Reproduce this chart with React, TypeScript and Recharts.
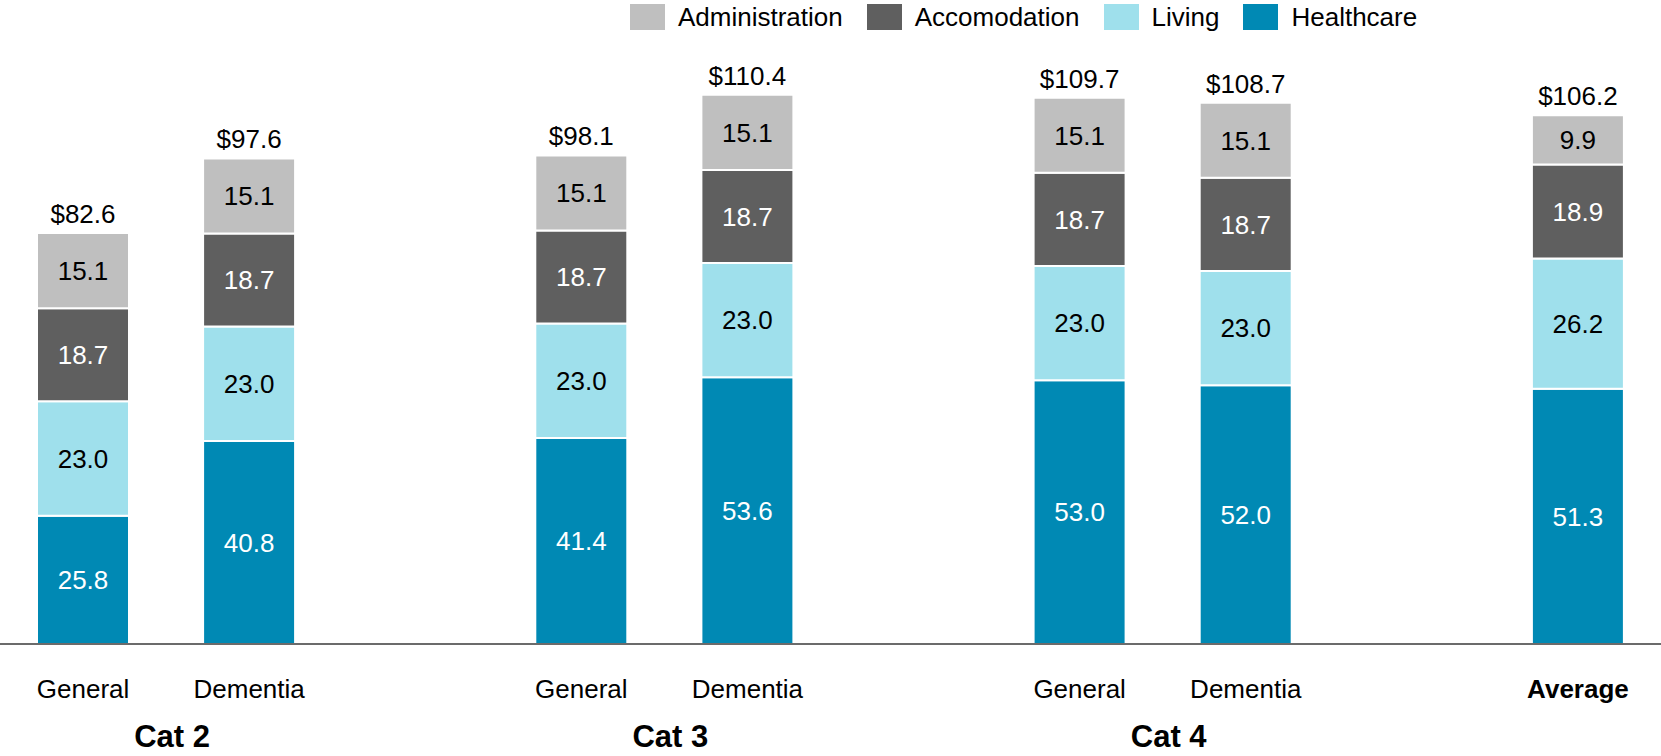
import { Bar, BarChart, LabelList, Legend, XAxis, YAxis } from "recharts";

const categories = ["General", "Dementia", "", "General", "Dementia", "", "General", "Dementia", "", "Average"];
const groups = ["Cat 2", "", "", "Cat 3", "", "", "Cat 4", "", "", ""];
const healthcare = [25.8, 40.8, null, 41.4, 53.6, null, 53.0, 52.0, null, 51.3];
const living = [23.0, 23.0, null, 23.0, 23.0, null, 23.0, 23.0, null, 26.2];
const accomodation = [18.7, 18.7, null, 18.7, 18.7, null, 18.7, 18.7, null, 18.9];
const administration = [15.1, 15.1, null, 15.1, 15.1, null, 15.1, 15.1, null, 9.9];
const totals = [82.6, 97.6, null, 98.1, 110.4, null, 109.7, 108.7, null, 106.2];

const legendItems = [
  { label: "Administration", color: "#bfbfbf" },
  { label: "Accomodation", color: "#5f5f5f" },
  { label: "Living", color: "#9fe0ec" },
  { label: "Healthcare", color: "#0089b4" },
];

const data = categories.map((name, i) => ({
  name,
  group: groups[i],
  healthcare: healthcare[i],
  living: living[i],
  accomodation: accomodation[i],
  administration: administration[i],
  total: totals[i],
}));

const WIDTH = 1661;
const HEIGHT = 756;
const SLOT = WIDTH / categories.length;
const FONT = "'Liberation Sans', Arial, sans-serif";

const fmt = (v: unknown) => (v == null ? "" : Number(v).toFixed(1));
const fmtTotal = (v: unknown) => (v == null ? "" : `$${Number(v).toFixed(1)}`);

function CategoryTick(props: any) {
  const { x, y, payload } = props;
  const idx = payload.index;
  const name = categories[idx];
  const group = groups[idx];
  const isAvg = name === "Average";
  return (
    <g>
      <text
        x={x}
        y={y + 54}
        textAnchor="middle"
        fontSize={26}
        fontFamily={FONT}
        fontWeight={isAvg ? 700 : 400}
        fill="#000"
      >
        {name}
      </text>
      {group && (
        <text
          x={x + SLOT / 2 + 6}
          y={y + 103}
          textAnchor="middle"
          fontSize={31}
          fontFamily={FONT}
          fontWeight={700}
          fill="#000"
        >
          {group}
        </text>
      )}
    </g>
  );
}

function LegendContent() {
  return (
    <div style={{ display: "flex", alignItems: "center", fontFamily: FONT, fontSize: 26, lineHeight: "30px" }}>
      {legendItems.map((item) => (
        <div key={item.label} style={{ display: "flex", alignItems: "center", marginRight: 24 }}>
          <span style={{ width: 35, height: 26, background: item.color, display: "inline-block", marginRight: 13 }} />
          <span style={{ color: "#000" }}>{item.label}</span>
        </div>
      ))}
    </div>
  );
}

export default function App() {
  return (
    <div style={{ position: "absolute", left: 0, top: 0, width: WIDTH, height: HEIGHT, background: "#fff" }}>
      <BarChart
        width={WIDTH}
        height={HEIGHT}
        data={data}
        margin={{ top: 47, right: 0, bottom: 0, left: 0 }}
        barCategoryGap={0}
      >
        <XAxis
          dataKey="name"
          interval={0}
          height={112}
          tickLine={false}
          tickSize={0}
          tickMargin={0}
          axisLine={{ stroke: "#6b6b6b", strokeWidth: 2 }}
          tick={<CategoryTick />}
        />
        <YAxis hide domain={[0, 120]} />
        <Legend
          verticalAlign="middle"
          layout="horizontal"
          wrapperStyle={{ top: 2, left: 630, width: "auto" }}
          content={<LegendContent />}
        />
        <Bar dataKey="healthcare" name="Healthcare" stackId="a" fill="#0089b4" stroke="#fff" strokeWidth={2} barSize={92} isAnimationActive={false}>
          <LabelList dataKey="healthcare" position="center" formatter={fmt} fill="#fff" fontSize={26} fontFamily={FONT} />
        </Bar>
        <Bar dataKey="living" name="Living" stackId="a" fill="#9fe0ec" stroke="#fff" strokeWidth={2} barSize={92} isAnimationActive={false}>
          <LabelList dataKey="living" position="center" formatter={fmt} fill="#000" fontSize={26} fontFamily={FONT} />
        </Bar>
        <Bar dataKey="accomodation" name="Accomodation" stackId="a" fill="#5f5f5f" stroke="#fff" strokeWidth={2} barSize={92} isAnimationActive={false}>
          <LabelList dataKey="accomodation" position="center" formatter={fmt} fill="#fff" fontSize={26} fontFamily={FONT} />
        </Bar>
        <Bar dataKey="administration" name="Administration" stackId="a" fill="#bfbfbf" stroke="#fff" strokeWidth={2} barSize={92} isAnimationActive={false}>
          <LabelList dataKey="administration" position="center" formatter={fmt} fill="#000" fontSize={26} fontFamily={FONT} />
          <LabelList dataKey="total" position="top" offset={10} formatter={fmtTotal} fill="#000" fontSize={26} fontFamily={FONT} />
        </Bar>
      </BarChart>
    </div>
  );
}
